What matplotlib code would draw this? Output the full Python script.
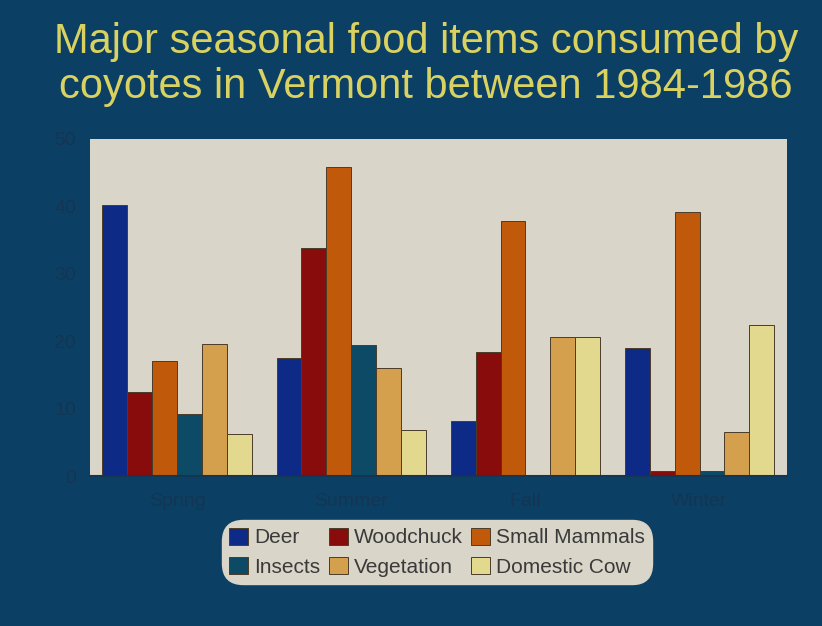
import numpy as np
import matplotlib
matplotlib.use('Agg')
import matplotlib.pyplot as plt
from matplotlib.patches import Patch

# datos
seasons = ['Spring', 'Summer', 'Fall', 'Winter']
items = ['Deer', 'Woodchuck', 'Small Mammals', 'Insects', 'Vegetation', 'Domestic Cow']
deer = [40.2, 17.5, 8.1, 19.0]
woodchuck = [12.4, 33.8, 18.4, 0.8]
small_mammals = [17.1, 45.8, 37.9, 39.1]
insects = [9.2, 19.4, 0.0, 0.8]
vegetation = [19.6, 16.0, 20.6, 6.6]
domestic_cow = [6.2, 6.8, 20.6, 22.4]

series = [deer, woodchuck, small_mammals, insects, vegetation, domestic_cow]
colors = ['#0c2a86', '#880c0c', '#c05a0a', '#0c4a66', '#d4a04e', '#e2d88e']

bg = '#0b4064'
dark = '#143553'

fig = plt.figure(figsize=(8.22, 6.26), dpi=100, facecolor=bg)
ax = fig.add_axes([0.1095, 0.2396, 0.8475, 0.5384])
ax.set_facecolor('#d9d5c9')

x = np.arange(len(seasons))
w = 1 / 7
for k, vals in enumerate(series):
    ax.bar(x + (k - 2.5) * w, vals, width=w, color=colors[k],
           edgecolor='#4a3c2a', linewidth=0.7, label=items[k])

ax.set_xlim(-0.5, 3.5)
ax.set_ylim(0, 50)
ax.set_yticks([0, 10, 20, 30, 40, 50])
ax.set_xticks(x)
ax.set_xticklabels(seasons)
for s in ['top', 'right', 'left']:
    ax.spines[s].set_visible(False)
ax.spines['bottom'].set_color(dark)
ax.spines['bottom'].set_linewidth(1.5)
ax.tick_params(length=0, labelcolor=dark, labelsize=14)
ax.tick_params(axis='y', pad=10)
ax.tick_params(axis='x', pad=12)
for t in ax.get_xticklabels() + ax.get_yticklabels():
    t.set_family(['Liberation Sans', 'DejaVu Sans'])

fig.text(0.518, 0.897, 'Major seasonal food items consumed by\ncoyotes in Vermont between 1984-1986',
         ha='center', va='center', color='#d9d160', fontsize=30,
         family=['Liberation Sans', 'DejaVu Sans'],
         linespacing=1.18)

# leyenda en filas
order = [0, 3, 1, 4, 2, 5]
handles = [Patch(facecolor=colors[i], edgecolor='#4a3c2a', linewidth=0.7) for i in order]
labels = [items[i] for i in order]
leg = fig.legend(handles, labels, ncol=3, loc='center', bbox_to_anchor=(0.532, 0.118),
                 frameon=True, facecolor='#d9d5c9', edgecolor='#d9d5c9', framealpha=1,
                 fancybox=True, handlelength=0.9, handleheight=0.9, handletextpad=0.3,
                 columnspacing=0.4, labelspacing=0.45, borderpad=0.3,
                 prop={'family': ['Liberation Sans', 'DejaVu Sans'], 'size': 15})
leg.get_frame().set_boxstyle('round', pad=0.05, rounding_size=1.0)
for t in leg.get_texts():
    t.set_color('#3a3a3a')

fig.savefig('out.png', dpi=100, facecolor=bg)
